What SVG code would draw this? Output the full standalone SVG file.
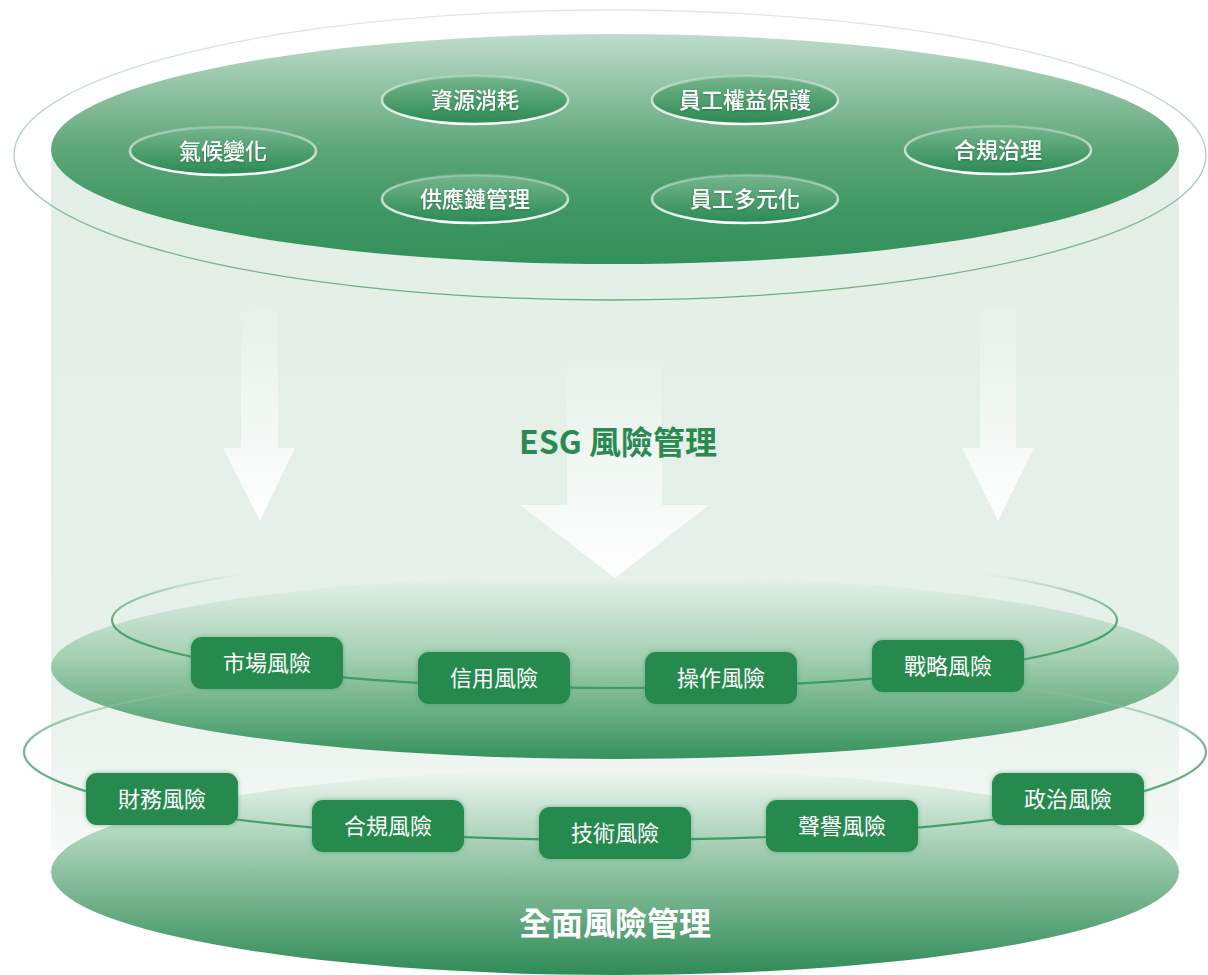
<svg xmlns="http://www.w3.org/2000/svg" width="1208" height="975" viewBox="0 0 1208 975">
<defs>
<linearGradient id="gCol" x1="0" y1="0" x2="0" y2="1">
<stop offset="0" stop-color="#e2eee6"/><stop offset="0.75" stop-color="#e7f1eb"/><stop offset="1" stop-color="#f6f9f7"/>
</linearGradient>
<linearGradient id="gTop" x1="0" y1="0" x2="0" y2="1">
<stop offset="0" stop-color="#bfdccb"/><stop offset="0.5" stop-color="#5da678"/><stop offset="0.78" stop-color="#3e9763"/><stop offset="1" stop-color="#34905a"/>
</linearGradient>
<linearGradient id="gMid" x1="0" y1="0" x2="0" y2="1">
<stop offset="0" stop-color="#e8f2ec"/><stop offset="0.45" stop-color="#a3cfb2"/><stop offset="1" stop-color="#37925c"/>
</linearGradient>
<linearGradient id="gBot" x1="0" y1="0" x2="0" y2="1">
<stop offset="0" stop-color="#f0f6f2"/><stop offset="0.3" stop-color="#b3d7c0"/><stop offset="1" stop-color="#2f8b56"/>
</linearGradient>
<linearGradient id="gPill" x1="0" y1="0" x2="0" y2="1">
<stop offset="0" stop-color="#77b68d"/><stop offset="1" stop-color="#2a8a52"/>
</linearGradient>
<linearGradient id="gPillStroke" x1="0" y1="0" x2="0" y2="1">
<stop offset="0" stop-color="#ffffff" stop-opacity="0.25"/><stop offset="1" stop-color="#ffffff" stop-opacity="1"/>
</linearGradient>
<linearGradient id="gArrow" x1="0" y1="0" x2="0" y2="1">
<stop offset="0" stop-color="#ffffff" stop-opacity="0.1"/><stop offset="1" stop-color="#ffffff" stop-opacity="0.95"/>
</linearGradient>
<linearGradient id="gRingTop" gradientUnits="userSpaceOnUse" x1="0" y1="10" x2="0" y2="300">
<stop offset="0" stop-color="#a9cdb4" stop-opacity="0.4"/><stop offset="1" stop-color="#6aaa7e"/>
</linearGradient>
<linearGradient id="gRingMid" gradientUnits="userSpaceOnUse" x1="0" y1="552" x2="0" y2="688">
<stop offset="0" stop-color="#6ab083" stop-opacity="0"/><stop offset="0.16" stop-color="#6ab083" stop-opacity="0"/><stop offset="0.32" stop-color="#6ab083" stop-opacity="0.6"/><stop offset="0.55" stop-color="#4fa26f"/><stop offset="1" stop-color="#3f9a63"/>
</linearGradient>
<linearGradient id="gRingBot" gradientUnits="userSpaceOnUse" x1="0" y1="664" x2="0" y2="840">
<stop offset="0" stop-color="#8cc3a0" stop-opacity="0"/><stop offset="0.1" stop-color="#8cc3a0" stop-opacity="0"/><stop offset="0.2" stop-color="#8cc3a0" stop-opacity="0.5"/><stop offset="0.45" stop-color="#7ab993"/><stop offset="1" stop-color="#3f9a63"/>
</linearGradient>
<filter id="glow" x="-20%" y="-30%" width="140%" height="160%">
<feDropShadow dx="0" dy="0" stdDeviation="2.5" flood-color="#3a9a60" flood-opacity="0.6"/>
</filter>
<filter id="tsh" x="-10%" y="-30%" width="120%" height="160%">
<feDropShadow dx="0" dy="1" stdDeviation="1" flood-color="#0d4a26" flood-opacity="0.4"/>
</filter>
</defs>
<style>
.pill{fill:url(#gPill);stroke:url(#gPillStroke);stroke-width:2.5}
.pt{font-family:"Noto Sans CJK TC","Noto Sans CJK SC",sans-serif;font-size:22px;font-weight:500;fill:#ffffff;text-anchor:middle}
.node{fill:#288a50}
.nt{font-family:"Noto Sans CJK TC","Noto Sans CJK SC",sans-serif;font-size:22px;font-weight:400;fill:#ffffff;text-anchor:middle}
.arrow{fill:url(#gArrow)}
.title{font-family:"Noto Sans CJK TC","Noto Sans CJK SC",sans-serif;font-size:32px;font-weight:700;text-anchor:middle}
</style>
<rect width="1208" height="975" fill="#ffffff"/>
<rect x="51" y="150" width="1128" height="700" fill="url(#gCol)"/>
<ellipse cx="610" cy="155" rx="596" ry="145" fill="none" stroke="url(#gRingTop)" stroke-width="1.3"/>
<ellipse cx="615" cy="149" rx="564" ry="115" fill="url(#gTop)"/>
<g id="esg-topics">
<g id="n-climate"><ellipse class="pill" cx="223" cy="151" rx="93" ry="24"/><text class="pt" x="223" y="159" filter="url(#tsh)">氣候變化</text></g>
<g id="n-resource"><ellipse class="pill" cx="475" cy="100" rx="93" ry="24"/><text class="pt" x="475" y="108" filter="url(#tsh)">資源消耗</text></g>
<g id="n-rights"><ellipse class="pill" cx="745" cy="100" rx="93" ry="24"/><text class="pt" x="745" y="108" filter="url(#tsh)">員工權益保護</text></g>
<g id="n-supply"><ellipse class="pill" cx="475" cy="199" rx="93" ry="24"/><text class="pt" x="475" y="207" filter="url(#tsh)">供應鏈管理</text></g>
<g id="n-diversity"><ellipse class="pill" cx="745" cy="199" rx="93" ry="24"/><text class="pt" x="745" y="207" filter="url(#tsh)">員工多元化</text></g>
<g id="n-governance"><ellipse class="pill" cx="998" cy="150" rx="93" ry="24"/><text class="pt" x="998" y="158" filter="url(#tsh)">合規治理</text></g>
</g>
<ellipse cx="615" cy="667" rx="564" ry="92" fill="url(#gMid)"/>
<ellipse cx="615" cy="872" rx="564" ry="103" fill="url(#gBot)"/>
<g id="arrows">
<polygon class="arrow" points="241,310 278,310 278,448 295,448 260,521 223,448 241,448"/>
<polygon class="arrow" points="567,367 662,367 662,505 709,505 615,578 520,505 567,505"/>
<polygon class="arrow" points="980,310 1016,310 1016,448 1034,448 998,521 962,448 980,448"/>
</g>
<text class="title" x="618" y="454" fill="#2a8a52">ESG 風險管理</text>
<g id="connectors">
<ellipse cx="614.5" cy="620" rx="502.5" ry="68" fill="none" stroke="url(#gRingMid)" stroke-width="2.2"/>
<ellipse cx="615" cy="752" rx="591" ry="88" fill="none" stroke="url(#gRingBot)" stroke-width="2.2"/>
</g>
<g id="mid-risks">
<g id="n-market"><rect class="node" x="191" y="637" width="152" height="52" rx="11" filter="url(#glow)"/><text class="nt" x="267" y="671">市場風險</text></g>
<g id="n-credit"><rect class="node" x="418" y="652" width="152" height="52" rx="11" filter="url(#glow)"/><text class="nt" x="494" y="686">信用風險</text></g>
<g id="n-operation"><rect class="node" x="645" y="652" width="152" height="52" rx="11" filter="url(#glow)"/><text class="nt" x="721" y="686">操作風險</text></g>
<g id="n-strategy"><rect class="node" x="872" y="640" width="152" height="52" rx="11" filter="url(#glow)"/><text class="nt" x="948" y="674">戰略風險</text></g>
</g>
<g id="bottom-risks">
<g id="n-finance"><rect class="node" x="86" y="773" width="152" height="52" rx="11" filter="url(#glow)"/><text class="nt" x="162" y="807">財務風險</text></g>
<g id="n-compliance"><rect class="node" x="312" y="800" width="152" height="52" rx="11" filter="url(#glow)"/><text class="nt" x="388" y="834">合規風險</text></g>
<g id="n-tech"><rect class="node" x="539" y="807" width="152" height="52" rx="11" filter="url(#glow)"/><text class="nt" x="615" y="841">技術風險</text></g>
<g id="n-reputation"><rect class="node" x="766" y="800" width="152" height="52" rx="11" filter="url(#glow)"/><text class="nt" x="842" y="834">聲譽風險</text></g>
<g id="n-political"><rect class="node" x="992" y="773" width="152" height="52" rx="11" filter="url(#glow)"/><text class="nt" x="1068" y="807">政治風險</text></g>
</g>
<text class="title" x="615" y="935" fill="#ffffff">全面風險管理</text>
</svg>
